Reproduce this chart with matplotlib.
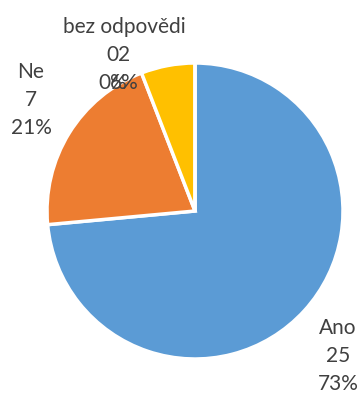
import matplotlib
matplotlib.use("Agg")
import matplotlib.pyplot as plt

# Survey answers (the zero-count answer has an empty name)
categories = ["Ano", "Ne", "bez odpovědi", ""]
counts = [25, 7, 2, 0]
percents = [73, 21, 6, 0]
colors = ["#5B9BD5", "#ED7D31", "#FFC000", "#A5A5A5"]

# label anchor per slice, in data units of the unit-radius pie
label_pos = [(0.966, -0.98), (-1.108, 0.75), (-0.48, 1.054), (-0.555, 1.054)]

W, H = 363, 396
fig = plt.figure(figsize=(W / 100, H / 100), dpi=100)
cx, cy, r = 195, 211, 148
ax = fig.add_axes([(cx - r) / W, (H - cy - r) / H, 2 * r / W, 2 * r / H])

ax.pie(
    counts, colors=colors, startangle=90, counterclock=False, radius=1,
    wedgeprops=dict(edgecolor="white", linewidth=2.5),
)
ax.set_xlim(-1, 1)
ax.set_ylim(-1, 1)
ax.axis("off")

for name, n, pct, (x, y) in zip(categories, counts, percents, label_pos):
    ax.text(
        x, y, f"{name}\n{n}\n{pct}%", ha="center", va="center",
        fontsize=15, color="#404040", linespacing=1.5,
        family="Lato", clip_on=False,
    )

fig.savefig("out.png", dpi=100)
